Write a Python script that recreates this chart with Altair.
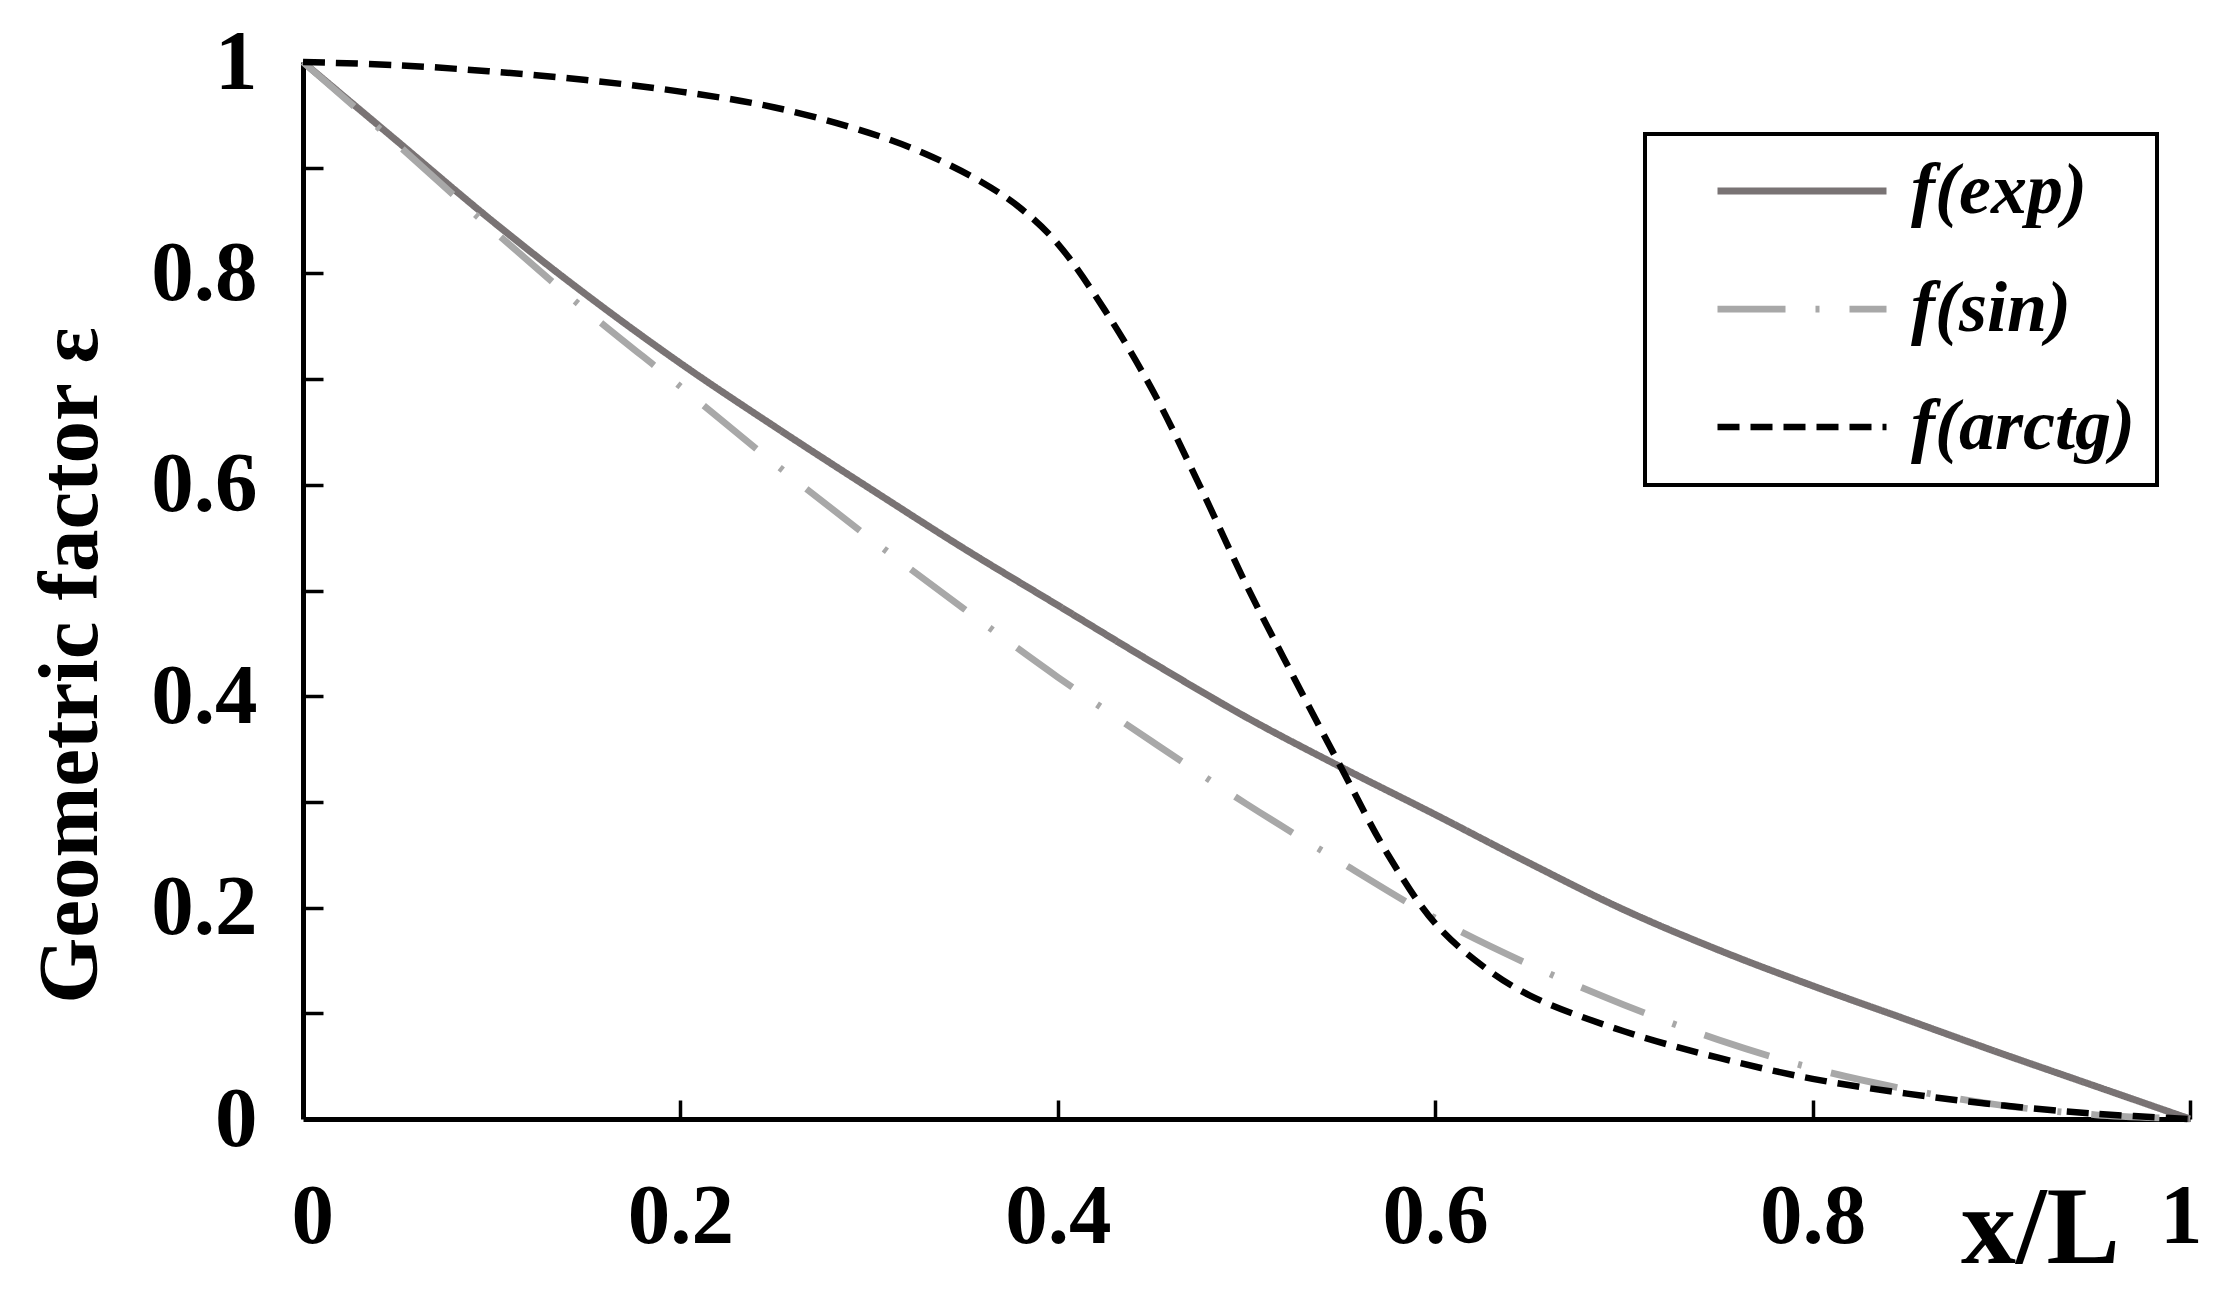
import altair as alt
import pandas as pd

# ---------------- data ----------------
series_names = ["f(exp)", "f(sin)", "f(arctg)"]

x_exp = [0, 0.05, 0.1, 0.15, 0.2, 0.25, 0.3, 0.35, 0.4, 0.45, 0.5,
         0.55, 0.6, 0.65, 0.7, 0.75, 0.8, 0.85, 0.9, 0.95, 1.0]
y_exp = [1.000, 0.925, 0.850, 0.780, 0.715, 0.655, 0.597, 0.540, 0.486, 0.432, 0.380,
         0.333, 0.288, 0.242, 0.198, 0.160, 0.126, 0.094, 0.062, 0.031, 0.000]

x_sin = [0, 0.05, 0.1, 0.15, 0.2, 0.25, 0.3, 0.35, 0.4, 0.45, 0.5,
         0.55, 0.6, 0.65, 0.7, 0.75, 0.8, 0.85, 0.9, 0.95, 1.0]
y_sin = [1.000, 0.922, 0.842, 0.765, 0.693, 0.620, 0.550, 0.483, 0.418, 0.357, 0.298,
         0.243, 0.190, 0.146, 0.108, 0.075, 0.048, 0.028, 0.013, 0.004, 0.000]

x_arctg = [0, 0.05, 0.1, 0.15, 0.2, 0.25, 0.3, 0.33, 0.36, 0.38, 0.4, 0.425, 0.45,
           0.475, 0.5, 0.525, 0.55, 0.575, 0.6, 0.625, 0.65, 0.7, 0.75, 0.8, 0.85,
           0.9, 0.95, 1.0]
y_arctg = [1.000, 0.997, 0.991, 0.983, 0.972, 0.957, 0.933, 0.913, 0.886, 0.862, 0.828,
           0.765, 0.690, 0.600, 0.505, 0.418, 0.333, 0.250, 0.185, 0.145, 0.117, 0.083,
           0.058, 0.038, 0.024, 0.013, 0.005, 0.000]

x_label_values = [0, 0.2, 0.4, 0.6, 0.8, 1.0]
x_tick_values = [0.2, 0.4, 0.6, 0.8, 1.0]
y_label_values = [0, 0.2, 0.4, 0.6, 0.8, 1.0]
y_tick_values = [0.1, 0.2, 0.3, 0.4, 0.5, 0.6, 0.7, 0.8, 0.9, 1.0]

series_colors = ["#797374", "#a8a8a8", "#000000"]
series_dashes = [[1, 0], [68, 30, 4, 30], [22, 11]]
series_widths = [7, 6.5, 8.5]

rows = []
for name, xs, ys in zip(series_names, [x_exp, x_sin, x_arctg], [y_exp, y_sin, y_arctg]):
    for i, (a, b) in enumerate(zip(xs, ys)):
        rows.append({"x": a, "y": b, "series": name, "order": i})
df = pd.DataFrame(rows)

# ---------------- layout ----------------
W, H = 1887, 1057
FONT = "Liberation Serif"

xscale = alt.Scale(domain=[0, 1], nice=False, zero=False)
yscale = alt.Scale(domain=[0, 1], nice=False, zero=False)

legend = alt.Legend(title=None, orient="none", legendX=1342, legendY=72)

lines = alt.Chart(df).mark_line(interpolate="catmull-rom").encode(
    x=alt.X("x:Q", scale=xscale, axis=alt.Axis(
        orient="bottom", values=x_label_values, format="~g", ticks=False, tickSize=0,
        domain=True, domainColor="black", domainWidth=5, grid=False,
        labelFont=FONT, labelFontSize=85, labelFontWeight="bold", labelColor="black",
        labelPadding=56, labelFlush=True, labelFlushOffset=12, labelOverlap=False,
        title="x/L", titleFont=FONT, titleFontSize=110, titleFontWeight="bold",
        titleColor="black", titleX=1737, titleY=143, titleAlign="center",
        titleBaseline="alphabetic")),
    y=alt.Y("y:Q", scale=yscale, axis=alt.Axis(
        orient="left", values=y_label_values, format="~g", ticks=False, tickSize=0,
        domain=True, domainColor="black", domainWidth=5, grid=False,
        labelFont=FONT, labelFontSize=85, labelFontWeight="bold", labelColor="black",
        labelPadding=46, labelOverlap=False,
        title="Geometric factor ε", titleFont=FONT, titleFontSize=85,
        titleFontWeight="bold", titleColor="black", titleAngle=270,
        titleX=-233, titleY=603, titleAlign="center", titleBaseline="middle")),
    color=alt.Color("series:N", scale=alt.Scale(domain=series_names, range=series_colors),
                    legend=legend),
    strokeDash=alt.StrokeDash("series:N", scale=alt.Scale(domain=series_names, range=series_dashes),
                              legend=legend),
    strokeWidth=alt.StrokeWidth("series:N", scale=alt.Scale(domain=series_names, range=series_widths),
                                legend=None),
    order="order:Q",
)

tick_layer = alt.Chart(df).mark_point(opacity=0).encode(
    x=alt.X("x:Q", scale=xscale, axis=alt.Axis(
        orient="top", offset=-H, values=x_tick_values, labels=False, domain=False,
        ticks=True, tickSize=19, tickWidth=3.5, tickColor="black", grid=False, title=None)),
    y=alt.Y("y:Q", scale=yscale, axis=alt.Axis(
        orient="right", offset=-W, values=y_tick_values, labels=False, domain=False,
        ticks=True, tickSize=20, tickWidth=3.5, tickColor="black", grid=False, title=None)),
)

chart = alt.layer(lines, tick_layer).resolve_axis(
    x="independent", y="independent"
).properties(
    width=W, height=H,
    autosize=alt.AutoSizeParams(type="none"),
    padding={"left": 295, "top": 54, "right": 16, "bottom": 168},
    background="white",
).configure_view(stroke=None).configure_legend(
    strokeColor="black", strokeWidth=4, fillColor="white", padding=22,
    symbolType="stroke", symbolSize=28561, symbolStrokeWidth=7.5, symbolOffset=47,
    clipHeight=70, rowPadding=46,
    labelOffset=21, labelFont=FONT, labelFontSize=72, labelFontStyle="italic",
    labelFontWeight="bold", labelColor="black", labelLimit=600,
)

chart.save("out.html", embed_options={"renderer": "svg", "actions": False})
